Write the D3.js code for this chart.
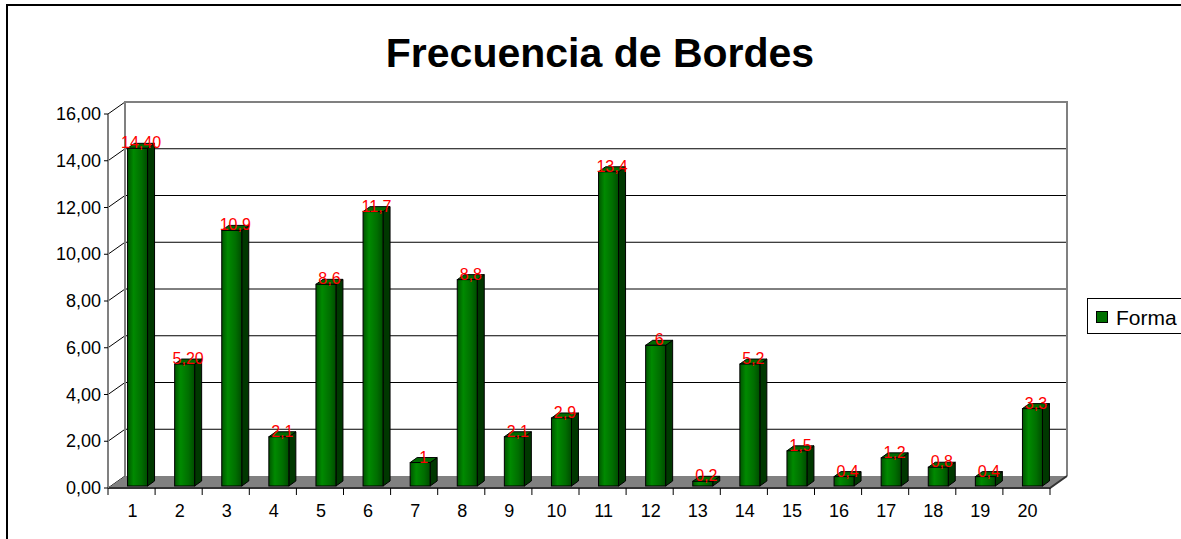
<!DOCTYPE html>
<html>
<head>
<meta charset="utf-8">
<script src="https://cdn.jsdelivr.net/npm/d3@7"></script>
<style>
  html, body { margin: 0; padding: 0; background: #ffffff; overflow: hidden; }
  svg { display: block; font-family: "Liberation Sans", Arial, sans-serif; }
</style>
</head>
<body>
<svg id="chart" width="1181" height="539"></svg>
<script>
// Edge frequency per category
const categories = ["1","2","3","4","5","6","7","8","9","10","11","12","13","14","15","16","17","18","19","20"];
const values = [14.4, 5.2, 10.9, 2.1, 8.6, 11.7, 1, 8.8, 2.1, 2.9, 13.4, 6, 0.2, 5.2, 1.5, 0.4, 1.2, 0.8, 0.4, 3.3];
const valueLabels = ["14,40","5,20","10,9","2,1","8,6","11,7","1","8,8","2,1","2,9","13,4","6","0,2","5,2","1,5","0,4","1,2","0,8","0,4","3,3"];
const yTicks = [0, 2, 4, 6, 8, 10, 12, 14, 16];
const yTickLabels = ["0,00","2,00","4,00","6,00","8,00","10,00","12,00","14,00","16,00"];
const seriesName = "Forma";

const svg = d3.select("#chart");

// 3D box geometry: front plane, back-wall offset, bar depth
const depthDx = 17, depthDy = -12;
const barDx = 7, barDy = -5;
const barWidth = 20;

const x = d3.scaleBand().domain(categories).range([108, 1050]).padding(0);
const y = d3.scaleLinear().domain([0, 16]).range([488, 114]);
const yBar = d3.scaleLinear().domain([0, 16]).range([486, 486 - 16 * 23.45]);
const bw = x.bandwidth();
const xLeft = x.range()[0], xRight = x.range()[1];

// outer chart frame
svg.append("rect")
  .attr("x", 7).attr("y", 5).attr("width", 1400).attr("height", 700)
  .attr("fill", "#ffffff").attr("stroke", "#000000").attr("stroke-width", 2);

// title
svg.append("text")
  .attr("x", 600).attr("y", 67)
  .attr("text-anchor", "middle")
  .attr("font-size", 41).attr("font-weight", "bold")
  .attr("fill", "#000000")
  .text("Frecuencia de Bordes");

// gradient for bar fronts
const defs = svg.append("defs");
const grad = defs.append("linearGradient").attr("id", "barFront")
  .attr("x1", "0%").attr("x2", "100%").attr("y1", "0%").attr("y2", "0%");
grad.append("stop").attr("offset", "0%").attr("stop-color", "#005400");
grad.append("stop").attr("offset", "30%").attr("stop-color", "#008a00");
grad.append("stop").attr("offset", "70%").attr("stop-color", "#006e00");
grad.append("stop").attr("offset", "100%").attr("stop-color", "#004c00");

// back wall
const wall = svg.append("g");
wall.append("rect")
  .attr("x", xLeft + depthDx).attr("y", y(16) + depthDy)
  .attr("width", xRight - xLeft).attr("height", y(0) - y(16))
  .attr("fill", "#ffffff");

// gridlines on back wall and side wall
yTicks.forEach(v => {
  if (v === 0 || v === 16) return;
  wall.append("line")
    .attr("x1", xLeft + depthDx).attr("x2", xRight + depthDx)
    .attr("y1", y(v) + depthDy).attr("y2", y(v) + depthDy)
    .attr("stroke", "#000000").attr("stroke-width", 1);
});
yTicks.forEach(v => {
  wall.append("line")
    .attr("x1", xLeft).attr("y1", y(v))
    .attr("x2", xLeft + depthDx).attr("y2", y(v) + depthDy)
    .attr("stroke", "#000000").attr("stroke-width", 1);
});

// wall borders (gray)
wall.append("path")
  .attr("d", `M${xLeft + depthDx},${y(0) + depthDy} V${y(16) + depthDy} H${xRight + depthDx} V${y(0) + depthDy}`)
  .attr("fill", "none").attr("stroke", "#808080").attr("stroke-width", 2);

// floor
wall.append("path")
  .attr("d", `M${xLeft},${y(0)} L${xRight},${y(0)} L${xRight + depthDx},${y(0) + depthDy} L${xLeft + depthDx},${y(0) + depthDy} Z`)
  .attr("fill", "#808080");
wall.append("path")
  .attr("d", `M${xLeft},${y(0)} L${xRight},${y(0)} L${xRight + depthDx},${y(0) + depthDy}`)
  .attr("fill", "none").attr("stroke", "#333333").attr("stroke-width", 2);

// y axis
const yAxis = svg.append("g");
yAxis.append("line")
  .attr("x1", xLeft).attr("x2", xLeft).attr("y1", y(16)).attr("y2", y(0))
  .attr("stroke", "#808080").attr("stroke-width", 2);
yTicks.forEach((v, i) => {
  yAxis.append("line")
    .attr("x1", xLeft - 4).attr("x2", xLeft).attr("y1", y(v)).attr("y2", y(v))
    .attr("stroke", "#000000");
  yAxis.append("text")
    .attr("x", xLeft - 7).attr("y", y(v) + 6)
    .attr("text-anchor", "end").attr("font-size", 18).attr("fill", "#000000")
    .text(yTickLabels[i]);
});

// x axis ticks and labels
const xAxis = svg.append("g");
const boundaries = categories.map(c => x(c)).concat([xRight]);
boundaries.forEach(bx => {
  xAxis.append("line")
    .attr("x1", bx).attr("x2", bx).attr("y1", y(0)).attr("y2", y(0) + 7)
    .attr("stroke", "#000000");
});
categories.forEach(c => {
  xAxis.append("text")
    .attr("x", x(c) + bw / 2 + 1).attr("y", 517)
    .attr("text-anchor", "middle").attr("font-size", 18).attr("fill", "#000000")
    .text(c);
});

// bars
const bars = svg.append("g");
categories.forEach((c, i) => {
  const v = values[i];
  const x0 = x(c) + bw / 2 + 6 - barWidth / 2;
  const x1 = x0 + barWidth;
  const yb = yBar(0), yt = yBar(v);
  const g = bars.append("g");
  // side face
  g.append("path")
    .attr("d", `M${x1},${yb} L${x1 + barDx},${yb + barDy} L${x1 + barDx},${yt + barDy} L${x1},${yt} Z`)
    .attr("fill", "#003800").attr("stroke", "#000000").attr("stroke-width", 1);
  // top face
  g.append("path")
    .attr("d", `M${x0},${yt} L${x1},${yt} L${x1 + barDx},${yt + barDy} L${x0 + barDx},${yt + barDy} Z`)
    .attr("fill", "#006a00").attr("stroke", "#000000").attr("stroke-width", 1);
  // front face
  g.append("rect")
    .attr("x", x0).attr("y", yt).attr("width", barWidth).attr("height", yb - yt)
    .attr("fill", "url(#barFront)").attr("stroke", "#000000").attr("stroke-width", 1);
});

// value labels
const labels = svg.append("g");
categories.forEach((c, i) => {
  const x0 = x(c) + bw / 2 + 6 - barWidth / 2;
  labels.append("text")
    .attr("x", x0 + (barWidth + barDx) / 2).attr("y", yBar(values[i]))
    .attr("text-anchor", "middle").attr("font-size", 16).attr("fill", "#ff0000")
    .text(valueLabels[i]);
});

// legend
const legend = svg.append("g");
legend.append("rect")
  .attr("x", 1087.5).attr("y", 298.5).attr("width", 200).attr("height", 35)
  .attr("fill", "#ffffff").attr("stroke", "#000000").attr("stroke-width", 1);
legend.append("rect")
  .attr("x", 1096.5).attr("y", 311.5).attr("width", 11).attr("height", 11)
  .attr("fill", "#007000").attr("stroke", "#000000").attr("stroke-width", 1);
legend.append("text")
  .attr("x", 1116).attr("y", 325)
  .attr("font-size", 21).attr("fill", "#000000")
  .text(seriesName);
</script>
</body>
</html>
